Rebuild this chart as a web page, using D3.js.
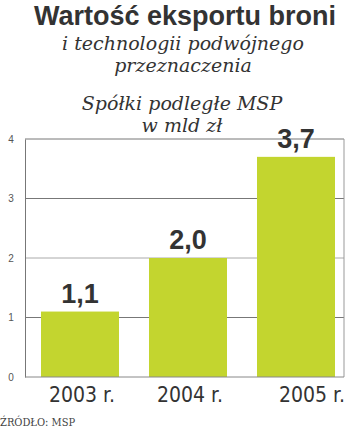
<!DOCTYPE html>
<html>
<head>
<meta charset="utf-8">
<script src="https://cdn.jsdelivr.net/npm/d3@7"></script>
<style>
  body { margin: 0; background: #fff; }
</style>
</head>
<body>
<div id="chart"></div>
<script>
const years = ["2003 r.", "2004 r.", "2005 r."];
const values = [1.1, 2.0, 3.7];
const yTicks = [0, 1, 2, 3, 4];

const w = 350;
const h = 432;

const svg = d3.select("#chart")
    .append("svg")
    .attr("width", w)
    .attr("height", h);

const x = d3.scaleBand()
    .domain(years)
    .range([41, 335])
    .paddingInner(0.2778)
    .paddingOuter(0);

const y = d3.scaleLinear()
    .domain([0, 4])
    .range([377, 139]);

// titles
svg.append("text")
    .attr("x", 185).attr("y", 25)
    .attr("text-anchor", "middle")
    .style("font-family", "Liberation Sans, Arial, sans-serif")
    .style("font-weight", "bold")
    .style("font-size", "27px")
    .style("fill", "#333")
    .text("Wartość eksportu broni");

const sub = ["i technologii podwójnego", "przeznaczenia"];
sub.forEach((t, i) => {
    svg.append("text")
        .attr("x", 183).attr("y", 50 + i * 22)
        .attr("text-anchor", "middle")
        .style("font-family", "DejaVu Serif, serif")
        .style("font-style", "italic")
        .style("font-size", "19px")
        .style("fill", "#333")
        .text(t);
});

const unit = ["Spółki podległe MSP", "w mld zł"];
unit.forEach((t, i) => {
    svg.append("text")
        .attr("x", 182).attr("y", 110 + i * 22)
        .attr("text-anchor", "middle")
        .style("font-family", "DejaVu Serif, serif")
        .style("font-style", "italic")
        .style("font-size", "19px")
        .style("fill", "#333")
        .text(t);
});

// gridlines
svg.append("g")
    .selectAll("line")
    .data(yTicks.slice(1))
    .enter()
    .append("line")
    .attr("x1", 25).attr("x2", 344)
    .attr("y1", d => y(d)).attr("y2", d => y(d))
    .attr("stroke", d => d === 2 ? "#aaa" : "#777")
    .attr("stroke-width", 1);

// y axis
const yAxis = d3.axisLeft(y)
    .tickValues(yTicks)
    .tickSize(0)
    .tickPadding(10)
    .tickFormat(d3.format("d"));

svg.append("g")
    .attr("transform", "translate(25,0)")
    .call(yAxis)
    .call(g => g.select(".domain").attr("stroke", "#777"))
    .call(g => g.selectAll("text")
        .attr("text-anchor", "middle")
        .attr("x", -14)
        .style("font-family", "Liberation Sans, Arial, sans-serif")
        .style("font-size", "10px")
        .style("fill", "#555"));

// right border
svg.append("line")
    .attr("x1", 344).attr("x2", 344)
    .attr("y1", y(4)).attr("y2", y(0))
    .attr("stroke", "#999");

// bars
svg.selectAll("rect.bar")
    .data(values)
    .enter()
    .append("rect")
    .attr("class", "bar")
    .attr("x", (d, i) => x(years[i]))
    .attr("y", d => y(d))
    .attr("width", x.bandwidth())
    .attr("height", d => y(0) - y(d))
    .attr("fill", "#c3d52f");

// baseline
svg.append("line")
    .attr("x1", 25).attr("x2", 344)
    .attr("y1", y(0)).attr("y2", y(0))
    .attr("stroke", "#888");

// value labels
svg.selectAll("text.val")
    .data(values)
    .enter()
    .append("text")
    .attr("class", "val")
    .attr("x", (d, i) => x(years[i]) + x.bandwidth() / 2)
    .attr("y", d => y(d) - 9)
    .attr("text-anchor", "middle")
    .style("font-family", "Liberation Sans, Arial, sans-serif")
    .style("font-weight", "bold")
    .style("font-size", "27px")
    .style("fill", "#333")
    .text(d => d3.format(".1f")(d).replace(".", ","));

// x axis
const xAxis = d3.axisBottom(x).tickSize(0).tickPadding(10);
svg.append("g")
    .attr("transform", `translate(0,${y(0)})`)
    .call(xAxis)
    .call(g => g.select(".domain").remove())
    .call(g => g.selectAll("text")
        .attr("dx", (d, i) => i === 2 ? 16 : 2)
        .style("font-family", "DejaVu Sans Condensed, sans-serif")
        .style("font-size", "21px")
        .style("fill", "#333"));

// source
svg.append("text")
    .attr("x", 0).attr("y", 426)
    .style("font-family", "DejaVu Serif Condensed, serif")
    .style("font-size", "11px")
    .style("fill", "#444")
    .text("ŹRÓDŁO: MSP");
</script>
</body>
</html>
